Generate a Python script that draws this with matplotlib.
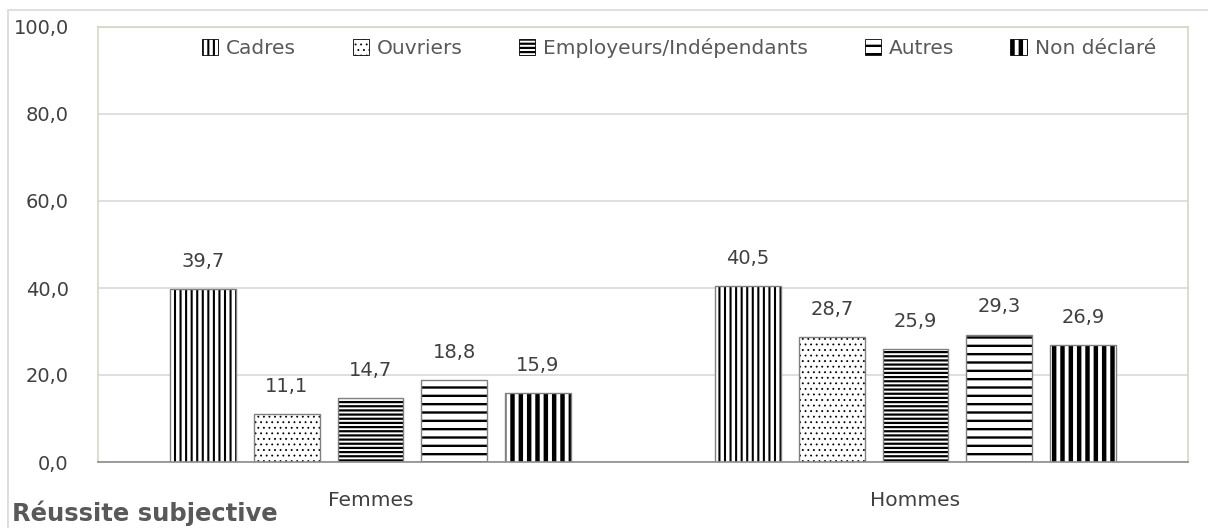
import matplotlib.pyplot as plt
from matplotlib.patches import Rectangle
import numpy as np

# categories et valeurs (en %)
groupes = ["Femmes", "Hommes"]
series = ["Cadres", "Ouvriers", "Employeurs/Indépendants", "Autres", "Non déclaré"]
valeurs = {
    "Cadres": [39.7, 40.5],
    "Ouvriers": [11.1, 28.7],
    "Employeurs/Indépendants": [14.7, 25.9],
    "Autres": [18.8, 29.3],
    "Non déclaré": [15.9, 26.9],
}
y_ticks = [0, 20, 40, 60, 80, 100]

# motifs de hachures : (hatch, épaisseur)
motifs = {
    "Cadres": ("|||", 1.5),
    "Ouvriers": ("...", 0.6),
    "Employeurs/Indépendants": ("----", 1.6),
    "Autres": ("--", 1.7),
    "Non déclaré": ("||", 3.2),
}

plt.rcParams['font.family'] = ['DejaVu Sans']
TXT = "#404040"

fig = plt.figure(figsize=(12.08, 5.28), dpi=100)
ax = fig.add_axes([98 / 1208, 1 - 462 / 528, 1090 / 1208, 435 / 528])

# cadre extérieur du graphique
fig.patches.append(Rectangle((8 / 1208, -0.1), 1.2, 1 - 10 / 528 + 0.1, transform=fig.transFigure,
                             fill=False, edgecolor="#D9D9D9", linewidth=1.2))

x = np.arange(len(groupes))
largeur = 0.121
pas = 0.1535
handles = []
for i, nom in enumerate(series):
    pos = x + (i - 2) * pas
    hatch, lw = motifs[nom]
    bars = ax.bar(pos, valeurs[nom], largeur, color="white", edgecolor="black",
                  hatch=hatch, linewidth=0, zorder=3, label=nom)
    for b in bars:
        if hasattr(b, "set_hatch_linewidth"):
            b.set_hatch_linewidth(lw)
    ax.bar(pos, valeurs[nom], largeur, fill=False, edgecolor="#808080", linewidth=1, zorder=4)
    labels = [f"{v:.1f}".replace(".", ",") for v in valeurs[nom]]
    ax.bar_label(bars, labels=labels, padding=13, fontsize=14, color=TXT)
    handles.append(bars)

ax.set_xlim(-0.5, 1.5)
ax.set_ylim(0, 100)
ax.set_yticks(y_ticks)
ax.set_yticklabels([f"{v:.1f}".replace(".", ",") for v in y_ticks])
ax.set_xticks(x)
ax.set_xticklabels(groupes)
ax.tick_params(axis="y", length=0, pad=21, labelsize=14, labelcolor=TXT)
ax.tick_params(axis="x", length=0, pad=21, labelsize=14.5, labelcolor=TXT)
ax.yaxis.grid(True, color="#D9D9D9", linewidth=1.2, zorder=0)
ax.set_axisbelow(True)

for s in ["top", "left", "right"]:
    ax.spines[s].set_color("#D8D5C5")
    ax.spines[s].set_linewidth(1.2)
ax.spines["bottom"].set_color("#8C8C8C")
ax.spines["bottom"].set_linewidth(1.2)
ax.spines["bottom"].set_zorder(5)

leg = ax.legend(handles=handles, labels=series, ncol=5, loc="center",
                bbox_to_anchor=(0.533, 0.952), frameon=False, fontsize=14.5,
                handlelength=0.8, handleheight=0.8, handletextpad=0.4,
                columnspacing=2.8, labelcolor="#595959")
for h, nom in zip(leg.legend_handles, series):
    h.set_linewidth(0.6)
    h.set_edgecolor("black")
    if hasattr(h, "set_hatch_linewidth"):
        h.set_hatch_linewidth(motifs[nom][1])

fig.text(12 / 1208, 1 - 513 / 528, "Réussite subjective", fontsize=17.5, fontweight="bold",
         color="#595959", va="center", ha="left")

fig.savefig("out.png", dpi=100)
